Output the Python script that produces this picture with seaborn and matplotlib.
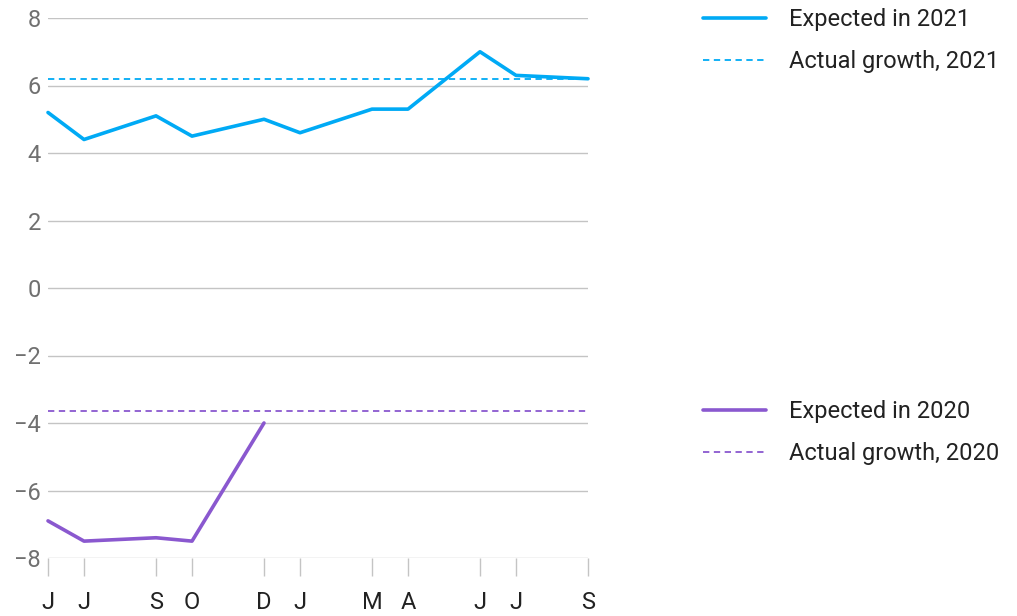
import matplotlib
matplotlib.use('Agg')
import matplotlib.pyplot as plt
import seaborn as sns
import pandas as pd
from matplotlib.lines import Line2D

# ── Data ──────────────────────────────────────────────────────────────────────
# month index: 0 = Jun 2020 ... 15 = Sep 2021
tick_pos    = [0, 1, 3, 4, 6, 7, 9, 10, 12, 13, 15]
tick_labels = ['J', 'J', 'S', 'O', 'D', 'J', 'M', 'A', 'J', 'J', 'S']

months_2021   = [0, 1, 3, 4, 6, 7, 9, 10, 12, 13, 15]
expected_2021 = [5.2, 4.4, 5.1, 4.5, 5.0, 4.6, 5.3, 5.3, 7.0, 6.3, 6.2]
actual_2021   = 6.2

months_2020   = [0, 1, 3, 4, 6]
expected_2020 = [-6.9, -7.5, -7.4, -7.5, -4.0]
actual_2020   = -3.65

yticks = [8, 6, 4, 2, 0, -2, -4, -6, -8]

BLUE   = '#00AAF5'
PURPLE = '#8A58CF'
DASH   = (0, (3.5, 2.5))

# ── Style ─────────────────────────────────────────────────────────────────────
sns.set_theme(style='white')
plt.rcParams['font.family'] = ['Roboto', 'DejaVu Sans']

fig = plt.figure(figsize=(10.17, 6.16), dpi=100)
ax = fig.add_axes([48/1017, 58/616, 540/1017, 540/616])

df21 = pd.DataFrame({'month': months_2021, 'value': expected_2021})
df20 = pd.DataFrame({'month': months_2020, 'value': expected_2020})

sns.lineplot(data=df21, x='month', y='value', color=BLUE, lw=2.6, ax=ax, clip_on=False, zorder=4)
sns.lineplot(data=df20, x='month', y='value', color=PURPLE, lw=2.6, ax=ax, clip_on=False, zorder=4)
ax.axhline(actual_2021, color=BLUE, lw=1.3, ls=DASH, zorder=3)
ax.axhline(actual_2020, color=PURPLE, lw=1.3, ls=DASH, zorder=3)

ax.set_xlim(0, 15)
ax.set_ylim(-8, 8)
ax.set_yticks(yticks)
ax.set_yticklabels([str(v).replace('-', '\u2212') for v in yticks])
ax.set_xticks(tick_pos)
ax.set_xticklabels(tick_labels)
for y in yticks:
    ax.axhline(y, color='#c4c4c4', lw=1.0, zorder=1)

for s in ax.spines.values():
    s.set_visible(False)
ax.tick_params(axis='y', length=0, pad=5, labelsize=17, labelcolor='#707070')
ax.tick_params(axis='x', length=13, width=1.0, color='#c4c4c4', pad=11,
               labelsize=17, labelcolor='#222222', bottom=True)
ax.set_xlabel('')
ax.set_ylabel('')

# ── Legends ───────────────────────────────────────────────────────────────────
leg_kw = dict(frameon=False, fontsize=17, handlelength=2.65, handletextpad=1.0,
              labelspacing=0.82, borderpad=0, borderaxespad=0, loc='upper left')
h21 = [Line2D([], [], color=BLUE, lw=2.6),
       Line2D([], [], color=BLUE, lw=1.3, ls=DASH)]
h20 = [Line2D([], [], color=PURPLE, lw=2.6),
       Line2D([], [], color=PURPLE, lw=1.3, ls=DASH)]
l1 = fig.legend(h21, ['Expected in 2021', 'Actual growth, 2021'],
                bbox_to_anchor=(703/1017, 1 - 8/616), **leg_kw)
l2 = fig.legend(h20, ['Expected in 2020', 'Actual growth, 2020'],
                bbox_to_anchor=(703/1017, 1 - 400/616), **leg_kw)
for leg in (l1, l2):
    for t in leg.get_texts():
        t.set_color('#222222')

plt.savefig('out.png', dpi=100)
plt.close()
